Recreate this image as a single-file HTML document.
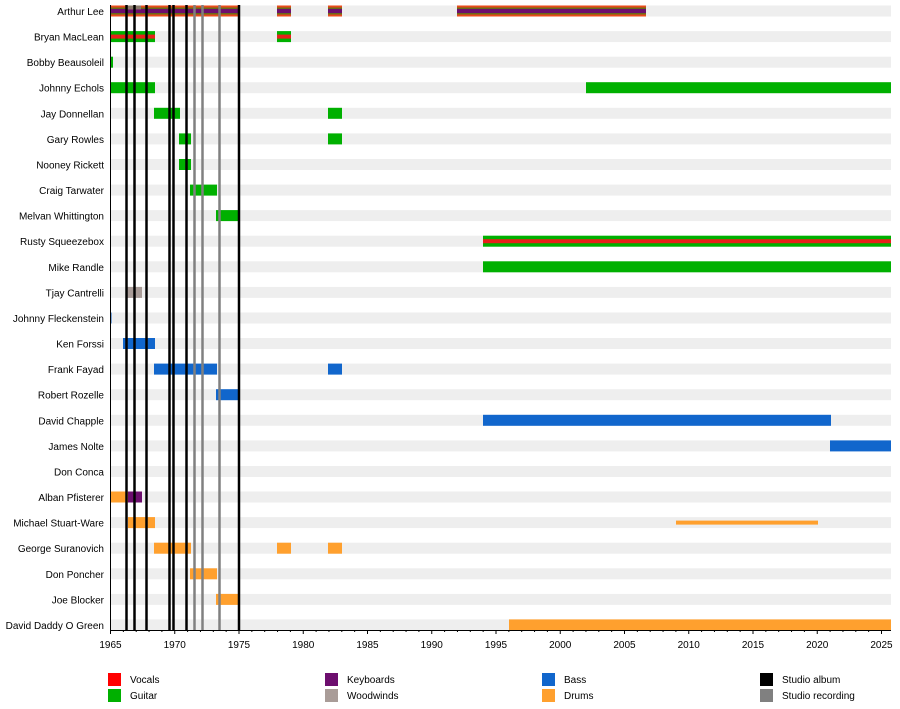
<!DOCTYPE html>
<html><head><meta charset="utf-8"><style>
html,body{margin:0;padding:0;background:#fff;width:900px;height:709px;overflow:hidden}
svg text{font-family:"Liberation Sans",Arial,sans-serif;font-size:10px;fill:#000}
</style></head><body>
<svg width="900" height="709" xmlns="http://www.w3.org/2000/svg">
<g id="bg" fill="#eeeeee">
<rect x="110" y="5.5" width="781" height="11"/>
<rect x="110" y="31.1" width="781" height="11"/>
<rect x="110" y="56.7" width="781" height="11"/>
<rect x="110" y="82.2" width="781" height="11"/>
<rect x="110" y="107.8" width="781" height="11"/>
<rect x="110" y="133.4" width="781" height="11"/>
<rect x="110" y="159" width="781" height="11"/>
<rect x="110" y="184.6" width="781" height="11"/>
<rect x="110" y="210.1" width="781" height="11"/>
<rect x="110" y="235.7" width="781" height="11"/>
<rect x="110" y="261.3" width="781" height="11"/>
<rect x="110" y="286.9" width="781" height="11"/>
<rect x="110" y="312.5" width="781" height="11"/>
<rect x="110" y="338" width="781" height="11"/>
<rect x="110" y="363.6" width="781" height="11"/>
<rect x="110" y="389.2" width="781" height="11"/>
<rect x="110" y="414.8" width="781" height="11"/>
<rect x="110" y="440.4" width="781" height="11"/>
<rect x="110" y="466" width="781" height="11"/>
<rect x="110" y="491.5" width="781" height="11"/>
<rect x="110" y="517.1" width="781" height="11"/>
<rect x="110" y="542.7" width="781" height="11"/>
<rect x="110" y="568.3" width="781" height="11"/>
<rect x="110" y="593.9" width="781" height="11"/>
<rect x="110" y="619.4" width="781" height="11"/>
</g>
<g text-anchor="end">
<text x="104" y="15">Arthur Lee</text>
<text x="104" y="40.6">Bryan MacLean</text>
<text x="104" y="66.2">Bobby Beausoleil</text>
<text x="104" y="91.7">Johnny Echols</text>
<text x="104" y="117.3">Jay Donnellan</text>
<text x="104" y="142.9">Gary Rowles</text>
<text x="104" y="168.5">Nooney Rickett</text>
<text x="104" y="194.1">Craig Tarwater</text>
<text x="104" y="219.6">Melvan Whittington</text>
<text x="104" y="245.2">Rusty Squeezebox</text>
<text x="104" y="270.8">Mike Randle</text>
<text x="104" y="296.4">Tjay Cantrelli</text>
<text x="104" y="322">Johnny Fleckenstein</text>
<text x="104" y="347.5">Ken Forssi</text>
<text x="104" y="373.1">Frank Fayad</text>
<text x="104" y="398.7">Robert Rozelle</text>
<text x="104" y="424.3">David Chapple</text>
<text x="104" y="449.9">James Nolte</text>
<text x="104" y="475.5">Don Conca</text>
<text x="104" y="501">Alban Pfisterer</text>
<text x="104" y="526.6">Michael Stuart-Ware</text>
<text x="104" y="552.2">George Suranovich</text>
<text x="104" y="577.8">Don Poncher</text>
<text x="104" y="603.4">Joe Blocker</text>
<text x="104" y="629">David Daddy O Green</text>
</g>
<!-- Arthur Lee -->
<g>
<rect x="110" y="5.5" width="129" height="11" fill="#e84a1a"/><rect x="110" y="7.5" width="129" height="7" fill="#6a6a18"/><rect x="110" y="9" width="129" height="4" fill="#6d0e6e"/>
<rect x="277" y="5.5" width="14" height="11" fill="#e84a1a"/><rect x="277" y="7.5" width="14" height="7" fill="#6a6a18"/><rect x="277" y="9" width="14" height="4" fill="#6d0e6e"/>
<rect x="328" y="5.5" width="14" height="11" fill="#e84a1a"/><rect x="328" y="7.5" width="14" height="7" fill="#6a6a18"/><rect x="328" y="9" width="14" height="4" fill="#6d0e6e"/>
<rect x="457" y="5.5" width="189" height="11" fill="#e84a1a"/><rect x="457" y="7.5" width="189" height="7" fill="#6a6a18"/><rect x="457" y="9" width="189" height="4" fill="#6d0e6e"/>
<rect x="127" y="5.5" width="14" height="4" fill="#8a7a6a"/>
</g>
<!-- green/red -->
<g>
<rect x="110" y="31.1" width="45" height="11" fill="#00b000"/><rect x="110" y="34.6" width="45" height="4" fill="#e8201a"/>
<rect x="277" y="31.1" width="14" height="11" fill="#00b000"/><rect x="277" y="34.6" width="14" height="4" fill="#e8201a"/>
<rect x="483" y="235.7" width="408" height="11" fill="#00b000"/><rect x="483" y="239.2" width="408" height="4" fill="#e8201a"/>
</g>
<g fill="#00b000">
<rect x="110" y="56.7" width="3" height="11"/>
<rect x="110" y="82.2" width="45" height="11"/><rect x="586" y="82.2" width="305" height="11"/>
<rect x="154" y="107.8" width="26" height="11"/><rect x="328" y="107.8" width="14" height="11"/>
<rect x="179" y="133.4" width="12" height="11"/><rect x="328" y="133.4" width="14" height="11"/>
<rect x="179" y="159" width="12" height="11"/>
<rect x="190" y="184.6" width="27" height="11"/>
<rect x="216" y="210.1" width="23" height="11"/>
<rect x="483" y="261.3" width="408" height="11"/>
</g>
<rect x="127" y="286.9" width="15" height="11" fill="#a99c98"/>
<g fill="#1166cc">
<rect x="110" y="312.5" width="1.5" height="11"/>
<rect x="123" y="338" width="32" height="11"/>
<rect x="154" y="363.6" width="63" height="11"/><rect x="328" y="363.6" width="14" height="11"/>
<rect x="216" y="389.2" width="23" height="11"/>
<rect x="483" y="414.8" width="348" height="11"/>
<rect x="830" y="440.4" width="61" height="11"/>
</g>
<g fill="#ffa02e">
<rect x="110" y="491.5" width="18" height="11"/>
<rect x="128" y="517.1" width="27" height="11"/>
<rect x="676" y="520.6" width="142" height="4"/>
<rect x="154" y="542.7" width="37" height="11"/><rect x="277" y="542.7" width="14" height="11"/><rect x="328" y="542.7" width="14" height="11"/>
<rect x="190" y="568.3" width="27" height="11"/>
<rect x="216" y="593.9" width="23" height="11"/>
<rect x="509" y="619.4" width="382" height="11"/>
</g>
<rect x="128" y="491.5" width="14" height="11" fill="#6d0e6e"/>
<!-- album lines -->
<g stroke="#000" stroke-width="2.5">
<line x1="126.5" y1="5" x2="126.5" y2="630"/>
<line x1="134.5" y1="5" x2="134.5" y2="630"/>
<line x1="146.5" y1="5" x2="146.5" y2="630"/>
<line x1="169.5" y1="5" x2="169.5" y2="630"/>
<line x1="173.5" y1="5" x2="173.5" y2="630"/>
<line x1="186.5" y1="5" x2="186.5" y2="630"/>
<line x1="239" y1="5" x2="239" y2="630"/>
</g>
<g stroke="#808080" stroke-width="2.5">
<line x1="194.5" y1="5" x2="194.5" y2="630"/>
<line x1="202.5" y1="5" x2="202.5" y2="630"/>
<line x1="219.5" y1="5" x2="219.5" y2="630"/>
</g>
<!-- axes -->
<line x1="110.5" y1="5" x2="110.5" y2="630" stroke="#000" stroke-width="1"/>
<line x1="110" y1="630.5" x2="891" y2="630.5" stroke="#000" stroke-width="1"/>
<g stroke="#000" stroke-width="1">
<path d="M110.5 630v4M123.35 630v2M136.2 630v2M149.05 630v2M161.9 630v2M174.75 630v4M187.6 630v2M200.45 630v2M213.3 630v2M226.15 630v2M239 630v4M251.85 630v2M264.7 630v2M277.55 630v2M290.4 630v2M303.25 630v4M316.1 630v2M328.95 630v2M341.8 630v2M354.65 630v2M367.5 630v4M380.35 630v2M393.2 630v2M406.05 630v2M418.9 630v2M431.75 630v4M444.6 630v2M457.45 630v2M470.3 630v2M483.15 630v2M496 630v4M508.85 630v2M521.7 630v2M534.55 630v2M547.4 630v2M560.25 630v4M573.1 630v2M585.95 630v2M598.8 630v2M611.65 630v2M624.5 630v4M637.35 630v2M650.2 630v2M663.05 630v2M675.9 630v2M688.75 630v4M701.6 630v2M714.45 630v2M727.3 630v2M740.15 630v2M753 630v4M765.85 630v2M778.7 630v2M791.55 630v2M804.4 630v2M817.25 630v4M830.1 630v2M842.95 630v2M855.8 630v2M868.65 630v2M881.5 630v4"/>
</g>
<g text-anchor="middle">
<text x="110.5" y="648">1965</text><text x="174.75" y="648">1970</text><text x="239" y="648">1975</text><text x="303.25" y="648">1980</text><text x="367.5" y="648">1985</text><text x="431.75" y="648">1990</text><text x="496" y="648">1995</text><text x="560.25" y="648">2000</text><text x="624.5" y="648">2005</text><text x="688.75" y="648">2010</text><text x="753" y="648">2015</text><text x="817.25" y="648">2020</text><text x="881.5" y="648">2025</text>
</g>
<!-- legend -->
<rect x="108" y="673" width="13" height="13" fill="#ff0000"/><text x="130" y="683">Vocals</text>
<rect x="108" y="689" width="13" height="13" fill="#00b000"/><text x="130" y="699">Guitar</text>
<rect x="325" y="673" width="13" height="13" fill="#6d0e6e"/><text x="347" y="683">Keyboards</text>
<rect x="325" y="689" width="13" height="13" fill="#a99c98"/><text x="347" y="699">Woodwinds</text>
<rect x="542" y="673" width="13" height="13" fill="#1166cc"/><text x="564" y="683">Bass</text>
<rect x="542" y="689" width="13" height="13" fill="#ffa02e"/><text x="564" y="699">Drums</text>
<rect x="760" y="673" width="13" height="13" fill="#000"/><text x="782" y="683">Studio album</text>
<rect x="760" y="689" width="13" height="13" fill="#808080"/><text x="782" y="699">Studio recording</text>
</svg>
</body></html>
